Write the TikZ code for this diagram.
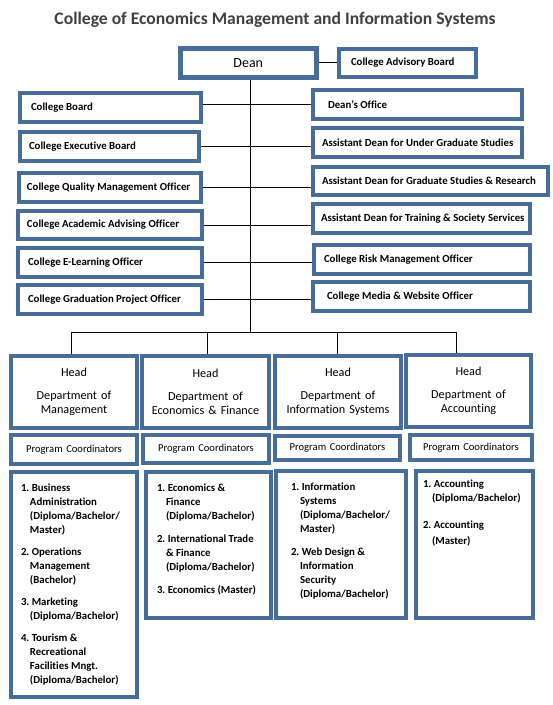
\documentclass[tikz,border=0pt]{standalone}
\usepackage{fontspec}
\setmainfont{Carlito}[Ligatures=NoCommon]
\definecolor{bcol}{RGB}{72,109,153}
\definecolor{tcol}{RGB}{64,64,64}
\tikzset{
  box/.style={draw=bcol, line width=4pt, fill=white, inner ysep=0pt, inner xsep=0pt},
  side/.style={box, font=\fontsize{10.8}{12}\selectfont\bfseries},
  deanbox/.style={box, line width=4.5pt, align=center, font=\fontsize{14}{16}\selectfont},
  headbox/.style={box, align=center, font=\fontsize{12.2}{14}\selectfont},
  pcbox/.style={box, align=center, font=\fontsize{10.6}{12}\selectfont},
  progbox/.style={box, font=\fontsize{10.8}{14}\selectfont\bfseries},
  link/.style={draw=black, line width=0.8pt},
}
% left-aligned one-line box: name, x1, y1, x2, y2, pad, style, text
\newcommand{\bx}[8]{%
  \pgfmathsetmacro{\bw}{#4-#2-4}%
  \pgfmathsetmacro{\bh}{#5-#3-4}%
  \pgfmathsetmacro{\tw}{\bw-#6}%
  \node[#7, minimum width=\bw pt, minimum height=\bh pt, anchor=north west]
    (#1) at (#2+2,#3+2) {\hspace*{#6pt}\makebox[\tw pt][l]{#8}};}
% centred box: name, x1, y1, x2, y2, style, text
\newcommand{\cbx}[7]{%
  \pgfmathsetmacro{\bw}{#4-#2-4}%
  \pgfmathsetmacro{\bh}{#5-#3-4}%
  \pgfmathsetmacro{\tw}{\bw-8}%
  \node[#6, text width=\tw pt, inner xsep=4pt, minimum width=\bw pt, minimum height=\bh pt, anchor=north west]
    (#1) at (#2+2,#3+2) {#7};}
% programme box, text from the top: name, x1, y1, x2, y2, pad, toppad, text
\newcommand{\pbx}[8]{%
  \pgfmathsetmacro{\bw}{#4-#2-4}%
  \pgfmathsetmacro{\bh}{#5-#3-4}%
  \pgfmathsetmacro{\tw}{\bw-#6}%
  \node[progbox, minimum width=\bw pt, minimum height=\bh pt, anchor=north west]
    (#1) at (#2+2,#3+2) {\hspace*{#6pt}\parbox[c][\bh pt][t]{\tw pt}{\parindent=0pt\hyphenpenalty=10000 \frenchspacing\vspace*{#7pt}#8}};}
\newcommand{\pitem}[2][8pt]{\noindent\hangindent=9pt\hangafter=1 #2\par\vspace{#1}}
\begin{document}
\begin{tikzpicture}[x=1pt,y=-1pt]
\useasboundingbox[fill=white] (0,0) rectangle (553,705);
\node[font=\fontsize{17.6}{20}\selectfont\bfseries, text=tcol] (title) at (275,20)
  {College of Economics Management and Information Systems};

\cbx{dean}{176}{44}{316}{77}{deanbox}{Dean}
\bx{adv}{335}{45}{476}{77}{12}{side}{College Advisory Board}

\bx{lb1}{16}{89}{201}{122}{11}{side}{College Board}
\bx{lb2}{16}{128}{199}{161}{9}{side}{College Executive Board}
\bx{lb3}{15}{169}{201}{202}{8}{side}{College Quality Management Officer}
\bx{lb4}{14}{207}{202}{239}{9}{side}{College Academic Advising Officer}
\bx{lb5}{14}{244}{202}{277}{10}{side}{College E-Learning Officer}
\bx{lb6}{14}{281}{202}{314}{10}{side}{College Graduation Project Officer}

\bx{rb1}{309}{86}{522}{119}{15}{side}{Dean’s Office}
\bx{rb2}{309}{124}{522}{157}{9}{side}{Assistant Dean for Under Graduate Studies}
\bx{rb3}{309}{163}{548}{195}{9}{side}{Assistant Dean for Graduate Studies \& Research}
\bx{rb4}{309}{200}{530}{233}{8}{side}{Assistant Dean for Training \& Society Services}
\bx{rb5}{310}{241}{530}{274}{10}{side}{College Risk Management Officer}
\bx{rb6}{309}{278}{530}{311}{14}{side}{College Media \& Website Officer}

\cbx{h1}{7}{352}{137}{428}{headbox}{Head\\[9pt]Department of\\Management}
\cbx{h2}{138}{352}{269}{428}{headbox}{Head\\[9pt]Department of\\Economics \& Finance}
\cbx{h3}{271}{352}{401}{428}{headbox}{Head\\[9pt]Department of\\Information Systems}
\cbx{h4}{402}{351}{531}{427}{headbox}{Head\\[9pt]Department of\\Accounting}

\cbx{pc1}{7}{431}{137}{464}{pcbox}{Program Coordinators}
\cbx{pc2}{139}{431}{269}{463}{pcbox}{Program Coordinators}
\cbx{pc3}{271}{432}{400}{460}{pcbox}{Program Coordinators}
\cbx{pc4}{406}{431}{532}{460}{pcbox}{Program Coordinators}

\pbx{pg1}{7}{468}{137}{697}{10}{11.5}{%
  \pitem{1. Business\\Administration\\(Diploma/Bachelor/\\Master)}%
  \pitem{2. Operations\\Management\\(Bachelor)}%
  \pitem{3. Marketing\\(Diploma/Bachelor)}%
  \pitem{4. Tourism \&\\Recreational\\Facilities Mngt.\\(Diploma/Bachelor)}}
\pbx{pg2}{142}{468}{271}{618}{11}{11.5}{%
  \pitem[9pt]{1. Economics \&\\Finance\\(Diploma/Bachelor)}%
  \pitem[9pt]{2. International Trade\\\& Finance\\(Diploma/Bachelor)}%
  \pitem{3. Economics (Master)}}
\pbx{pg3}{272}{467}{406}{618}{15}{11.5}{%
  \pitem[9pt]{1. Information\\Systems\\(Diploma/Bachelor/\\Master)}%
  \pitem{2. Web Design \&\\Information\\Security\\(Diploma/Bachelor)}}
\pbx{pg4}{412}{467}{533}{618}{7}{8.5}{%
  \pitem[13pt]{1. Accounting\\(Diploma/Bachelor)}%
  \pitem{2. Accounting\\[2pt](Master)}}

% connectors
\draw[link] (dean.east) -- (dean.east -| adv.west);
\draw[link] (rb1.west -| lb1.east) -- (rb1.west);
\draw[link] (lb2.east) -- (lb2.east -| rb2.west);
\draw[link] (lb3.east) -- (lb3.east -| rb3.west);
\draw[link] (lb4.east) -- (lb4.east -| rb4.west);
\draw[link] (lb5.east) -- (lb5.east -| rb5.west);
\draw[link] (lb6.east) -- (lb6.east -| rb6.west);
\coordinate (bus) at (250,332);
\coordinate (d1) at (71,332);
\coordinate (d2) at (207,332);
\coordinate (d3) at (337,332);
\coordinate (d4) at (456,332);
\draw[link] (dean.south -| bus) -- (bus);
\draw[link] (d1) -- (d4);
\draw[link] (d1) -- (d1 |- h1.north);
\draw[link] (d2) -- (d2 |- h2.north);
\draw[link] (d3) -- (d3 |- h3.north);
\draw[link] (d4) -- (d4 |- h4.north);
\end{tikzpicture}
\end{document}
